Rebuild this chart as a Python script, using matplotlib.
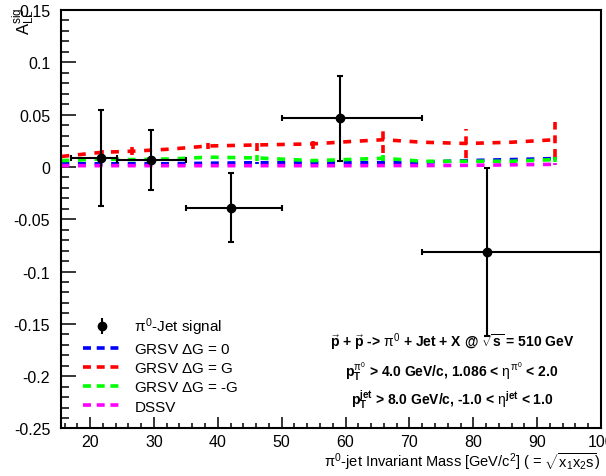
import numpy as np
import matplotlib.pyplot as plt
from matplotlib.ticker import MultipleLocator

plt.rcParams['font.family'] = ['Liberation Sans', 'DejaVu Sans']
plt.rcParams['mathtext.fontset'] = 'custom'
plt.rcParams['mathtext.rm'] = 'Liberation Sans'
plt.rcParams['mathtext.it'] = 'Liberation Sans'
plt.rcParams['mathtext.bf'] = 'Liberation Sans:bold'

# measured pi0-jet signal asymmetry per mass bin
mass = [21.7, 29.55, 42.1, 59.1, 82.1]
mass_lo = [17.0, 24.2, 35.0, 50.1, 72.0]
mass_hi = [24.2, 35.0, 50.1, 72.0, 100.0]
all_sig = [0.0086, 0.0067, -0.0389, 0.0465, -0.0815]
all_err = [0.046, 0.029, 0.033, 0.0405, 0.0805]

# model predictions
th_mass = [15.5, 21.9, 26.6, 32.5, 38.5, 46.2, 54.9, 60.0, 65.9, 72.0, 78.9, 86.0, 92.8]
grsv_0 = [0.003, 0.003, 0.003, 0.003, 0.0035, 0.004, 0.004, 0.004, 0.004, 0.0045, 0.006, 0.007, 0.008]
grsv_0_err = [0, 0, 0, 0, 0, 0.001, 0, 0, 0.001, 0, 0.001, 0, 0.001]
grsv_g = [0.010, 0.014, 0.015, 0.017, 0.020, 0.021, 0.022, 0.024, 0.026, 0.0236, 0.0224, 0.0236, 0.026]
grsv_g_err = [0, 0.0025, 0.004, 0, 0.003, 0.006, 0.005, 0, 0.013, 0, 0.0135, 0, 0.0167]
grsv_mg = [0.006, 0.0076, 0.007, 0.0076, 0.0093, 0.0086, 0.006, 0.007, 0.0083, 0.0054, 0.0054, 0.0054, 0.007]
grsv_mg_err = [0, 0, 0, 0, 0, 0.003, 0, 0, 0.003, 0, 0.001, 0, 0.002]
dssv = [0.0012, 0.0012, 0.0012, 0.0012, 0.0012, 0.0012, 0.0012, 0.0012, 0.0013, 0.0013, 0.0015, 0.002, 0.0025]
dssv_err = [0, 0, 0, 0, 0, 0, 0, 0, 0, 0, 0, 0, 0.001]

models = [
    (grsv_0, grsv_0_err, '#0000ff', r'GRSV $\Delta$G = 0'),
    (grsv_g, grsv_g_err, '#ff0000', r'GRSV $\Delta$G = G'),
    (grsv_mg, grsv_mg_err, '#00ff00', r'GRSV $\Delta$G = -G'),
    (dssv, dssv_err, '#ff00ff', 'DSSV'),
]

fig = plt.figure(figsize=(6.06, 4.77), dpi=100)
ax = fig.add_axes([0.1012, 0.0996, 0.8906, 0.8774])

handles = []
for vals, errs, col, lab in models:
    eb = ax.errorbar(th_mass, vals, yerr=errs, color=col, lw=2.6, elinewidth=2.6,
                     capsize=0, dashes=(2.2, 2.4), dash_capstyle='butt', zorder=2)
    eb[2][0].set_linestyle((0, (2.2, 1.6)))
    h, = ax.plot([], [], color=col, lw=2.6, dashes=(2.2, 1.6), dash_capstyle='butt', label=lab)
    handles.append(h)

xerr = [np.subtract(mass, mass_lo), np.subtract(mass_hi, mass)]
ax.errorbar(mass, all_sig, xerr=xerr, yerr=all_err, fmt='o', color='black', ms=6,
            lw=1.5, elinewidth=1.5, capsize=2.2, capthick=1.5, zorder=5)
sig_h = ax.errorbar([], [], yerr=[], fmt='o', color='black', ms=6, elinewidth=1.5)
leg = ax.legend([sig_h] + handles, [r'$\pi^0$-Jet signal'] + [m[3] for m in models],
                loc='upper left', bbox_to_anchor=(0.029, 0.284), frameon=False, fontsize=11,
                handlelength=2.5, handletextpad=0.85, labelspacing=0.33, borderaxespad=0)

ax.set_xlim(15.5, 100)
ax.set_ylim(-0.25, 0.15)
ax.xaxis.set_major_locator(MultipleLocator(10))
ax.xaxis.set_minor_locator(MultipleLocator(2))
ax.yaxis.set_major_locator(MultipleLocator(0.05))
ax.yaxis.set_minor_locator(MultipleLocator(0.01))
ax.yaxis.set_major_formatter(plt.FuncFormatter(lambda v, p: f'{v:g}' if abs(v) > 1e-9 else '0'))
ax.tick_params(axis='y', which='major', direction='in', length=10.8, width=1.1, labelsize=11.5, pad=8)
ax.tick_params(axis='y', which='minor', direction='in', length=5.8, width=1.1)
ax.tick_params(axis='x', which='major', direction='in', length=8, width=1.1, labelsize=11.5, pad=4)
ax.tick_params(axis='x', which='minor', direction='in', length=3.6, width=1.1)
for s in ax.spines.values():
    s.set_linewidth(1.5)

ax.set_xlabel(r'$\pi^0$-jet Invariant Mass [GeV/c$^2$] ( = $\sqrt{x_1x_2s}$)', loc='right', fontsize=10.5, labelpad=1)
ax.set_ylabel(r'A$_{\mathrm{LL}}^{\mathrm{sig}}$', loc='top', fontsize=12)
ax.yaxis.set_label_coords(-0.045, 1.007)

txt = dict(transform=ax.transAxes, ha='center', va='center', fontsize=10, fontweight='bold')
ax.text(0.724, 0.209, r'$\vec{\mathbf{p}}$ + $\vec{\mathbf{p}}$ -> $\pi^0$ + Jet + X @ $\sqrt{\mathbf{s}}$ = 510 GeV', **txt)
ax.text(0.724, 0.137, r'$\mathbf{p}_{\mathbf{T}}^{\pi^0}$ > 4.0 GeV/c, 1.086 < $\eta^{\pi^0}$ < 2.0', **txt)
ax.text(0.724, 0.070, r'$\mathbf{p}_{\mathbf{T}}^{\mathbf{jet}}$ > 8.0 GeV/c, -1.0 < $\eta^{\mathbf{jet}}$ < 1.0', **txt)

fig.savefig('out.png', dpi=100)
